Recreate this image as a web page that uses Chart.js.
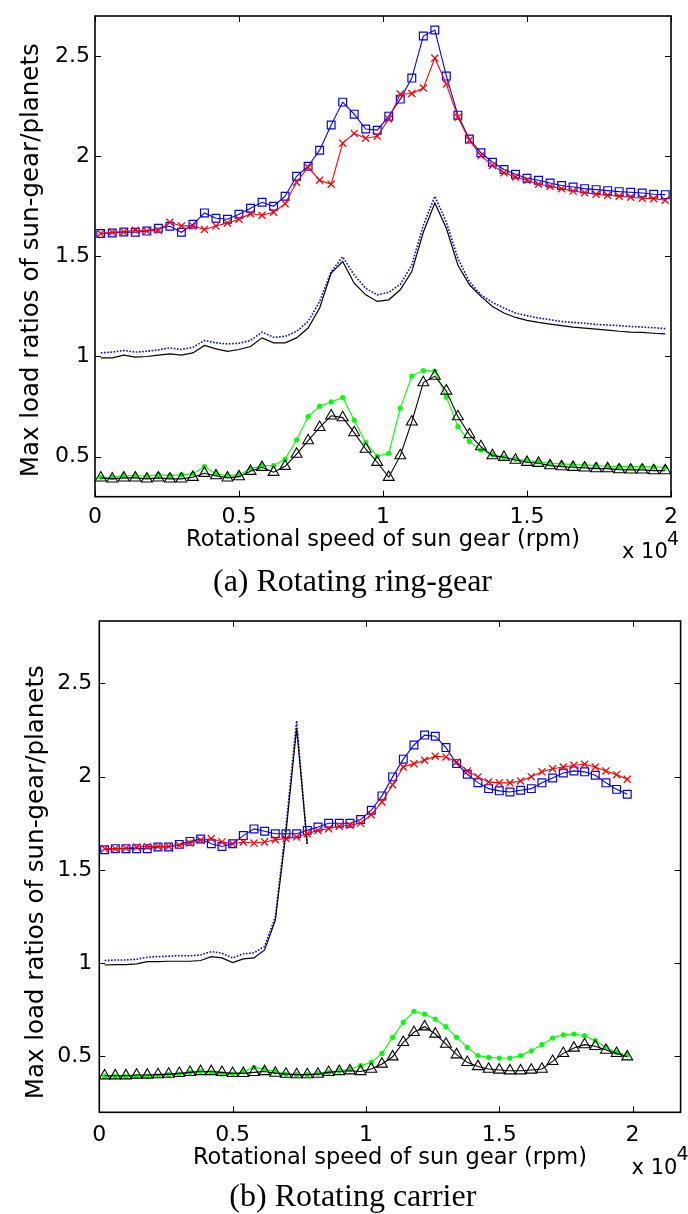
<!DOCTYPE html>
<html>
<head>
<meta charset="utf-8">
<script src="https://cdn.jsdelivr.net/npm/chart.js@4.4.1/dist/chart.umd.min.js"></script>
<style>
  html, body { margin: 0; padding: 0; background: #fff; }
  canvas { display: block; }
</style>
</head>
<body>
<canvas id="ringChart" width="688" height="600"></canvas>
<canvas id="carrierChart" width="688" height="614"></canvas>
<script>
// sun gear speed (rpm) of every computed point
const speeds = [200, 600, 1000, 1400, 1800, 2200, 2600, 3000, 3400, 3800,
  4200, 4600, 5000, 5400, 5800, 6200, 6600, 7000, 7400, 7800,
  8200, 8600, 9000, 9400, 9800, 10200, 10600, 11000, 11400, 11800,
  12200, 12600, 13000, 13400, 13800, 14200, 14600, 15000, 15400, 15800,
  16200, 16600, 17000, 17400, 17800, 18200, 18600, 19000, 19400, 19800];

const xTickValues = [0, 5000, 10000, 15000, 20000];
const xTickLabels = ['0', '0.5', '1', '1.5', '2'];
const yTickValues = [0.5, 1, 1.5, 2, 2.5];
const yTickLabels = ['0.5', '1', '1.5', '2', '2.5'];

const xTitle = 'Rotational speed of sun gear (rpm)';
const yTitle = 'Max load ratios of sun-gear/planets';
const xExponentBase = 'x 10';
const xExponent = '4';

// (a) rotating ring-gear
const ringSquares = [1.614, 1.617, 1.622, 1.62, 1.626, 1.64, 1.65, 1.62, 1.66, 1.717,
  1.69, 1.685, 1.71, 1.74, 1.77, 1.75, 1.80, 1.90, 1.95, 2.03,
  2.156, 2.27, 2.21, 2.136, 2.13, 2.20, 2.285, 2.39, 2.60, 2.63,
  2.40, 2.205, 2.086, 2.017, 1.97, 1.934, 1.91, 1.89, 1.88, 1.866,
  1.854, 1.846, 1.838, 1.833, 1.828, 1.823, 1.82, 1.816, 1.81, 1.808];
const ringCrosses = [1.614, 1.62, 1.622, 1.63, 1.626, 1.63, 1.67, 1.652, 1.652, 1.634,
  1.652, 1.667, 1.685, 1.713, 1.705, 1.72, 1.763, 1.87, 1.945, 1.88,
  1.86, 2.065, 2.114, 2.09, 2.10, 2.186, 2.31, 2.313, 2.34, 2.49,
  2.36, 2.194, 2.08, 2.003, 1.954, 1.917, 1.896, 1.88, 1.86, 1.85,
  1.838, 1.826, 1.818, 1.81, 1.805, 1.80, 1.795, 1.79, 1.788, 1.78];
const ringDotted = [1.018, 1.022, 1.03, 1.022, 1.026, 1.033, 1.043, 1.035, 1.046, 1.08,
  1.068, 1.063, 1.066, 1.08, 1.122, 1.096, 1.10, 1.126, 1.175, 1.275,
  1.424, 1.498, 1.407, 1.34, 1.308, 1.32, 1.36, 1.457, 1.655, 1.80,
  1.67, 1.49, 1.374, 1.308, 1.27, 1.242, 1.217, 1.204, 1.192, 1.184,
  1.175, 1.17, 1.166, 1.16, 1.157, 1.154, 1.15, 1.147, 1.144, 1.139];
const ringSolid = [0.993, 0.993, 1.007, 0.997, 1.0, 1.007, 1.013, 1.007, 1.018, 1.055,
  1.038, 1.026, 1.035, 1.05, 1.093, 1.068, 1.068, 1.093, 1.142, 1.242,
  1.416, 1.474, 1.366, 1.308, 1.275, 1.283, 1.333, 1.424, 1.62, 1.766,
  1.64, 1.457, 1.358, 1.30, 1.25, 1.217, 1.195, 1.18, 1.17, 1.162,
  1.154, 1.147, 1.142, 1.137, 1.132, 1.126, 1.122, 1.12, 1.116, 1.113];
const ringDots = [0.397, 0.397, 0.405, 0.405, 0.402, 0.41, 0.405, 0.41, 0.414, 0.45,
  0.414, 0.405, 0.41, 0.439, 0.455, 0.455, 0.488, 0.583, 0.70, 0.752,
  0.773, 0.795, 0.682, 0.571, 0.502, 0.517, 0.742, 0.902, 0.93, 0.927,
  0.798, 0.65, 0.576, 0.533, 0.51, 0.497, 0.488, 0.48, 0.475, 0.467,
  0.464, 0.46, 0.459, 0.455, 0.452, 0.45, 0.45, 0.45, 0.449, 0.447];
const ringTriangles = [0.394, 0.389, 0.394, 0.394, 0.389, 0.394, 0.389, 0.389, 0.397, 0.417,
  0.405, 0.394, 0.40, 0.427, 0.447, 0.422, 0.452, 0.513, 0.58, 0.646,
  0.704, 0.695, 0.62, 0.538, 0.472, 0.397, 0.505, 0.674, 0.87, 0.902,
  0.828, 0.70, 0.61, 0.55, 0.505, 0.497, 0.483, 0.472, 0.467, 0.455,
  0.45, 0.447, 0.444, 0.44, 0.44, 0.435, 0.434, 0.434, 0.43, 0.43];

// (b) rotating carrier
const carrierSquares = [1.608, 1.614, 1.614, 1.614, 1.614, 1.623, 1.623, 1.637, 1.653, 1.666,
  1.64, 1.626, 1.64, 1.684, 1.72, 1.707, 1.694, 1.694, 1.694, 1.712,
  1.73, 1.75, 1.75, 1.75, 1.77, 1.82, 1.897, 1.999, 2.094, 2.17,
  2.223, 2.217, 2.156, 2.07, 2.013, 1.968, 1.936, 1.924, 1.918, 1.927,
  1.936, 1.967, 1.993, 2.02, 2.031, 2.026, 2.008, 1.967, 1.932, 1.906];
const carrierCrosses = [1.614, 1.614, 1.617, 1.623, 1.626, 1.626, 1.626, 1.632, 1.644, 1.659,
  1.668, 1.65, 1.64, 1.65, 1.644, 1.65, 1.662, 1.668, 1.677, 1.694,
  1.712, 1.721, 1.734, 1.74, 1.75, 1.796, 1.864, 1.957, 2.052, 2.07,
  2.088, 2.11, 2.106, 2.079, 2.031, 1.999, 1.972, 1.967, 1.967, 1.977,
  2.0, 2.026, 2.043, 2.052, 2.061, 2.067, 2.052, 2.031, 2.011, 1.986];
const carrierDotted = [1.014, 1.017, 1.017, 1.021, 1.032, 1.035, 1.037, 1.04, 1.039, 1.044,
  1.062, 1.053, 1.028, 1.05, 1.055, 1.09, 1.247, 1.73, 2.30, 1.63];
const carrierSolid = [0.99, 0.992, 0.992, 0.996, 1.008, 1.008, 1.01, 1.01, 1.01, 1.014,
  1.035, 1.028, 1.003, 1.023, 1.028, 1.071, 1.229, 1.70, 2.26, 1.64];
const carrierDots = [0.393, 0.393, 0.393, 0.393, 0.393, 0.396, 0.402, 0.405, 0.414, 0.419,
  0.414, 0.405, 0.405, 0.418, 0.441, 0.432, 0.418, 0.405, 0.402, 0.402,
  0.409, 0.414, 0.423, 0.432, 0.45, 0.468, 0.516, 0.602, 0.683, 0.742,
  0.727, 0.70, 0.659, 0.602, 0.548, 0.504, 0.495, 0.491, 0.491, 0.504,
  0.53, 0.563, 0.598, 0.616, 0.62, 0.611, 0.584, 0.548, 0.521, 0.509];
const carrierTriangles = [0.396, 0.396, 0.396, 0.40, 0.40, 0.402, 0.405, 0.409, 0.414, 0.419,
  0.419, 0.414, 0.409, 0.409, 0.414, 0.419, 0.41, 0.405, 0.402, 0.402,
  0.405, 0.414, 0.419, 0.423, 0.419, 0.432, 0.459, 0.498, 0.575, 0.629,
  0.659, 0.62, 0.566, 0.509, 0.468, 0.446, 0.432, 0.427, 0.423, 0.423,
  0.427, 0.432, 0.473, 0.516, 0.545, 0.563, 0.554, 0.534, 0.516, 0.498];

const SANS = '"DejaVu Sans", sans-serif';
const SERIF = '"Liberation Serif", "Times New Roman", serif';

// matlab style box with inward ticks + the x10^4 multiplier
const matlabBox = {
  id: 'matlabBox',
  afterDraw(chart) {
    const { ctx, chartArea: a } = chart;
    const { x, y } = chart.scales;
    ctx.save();
    ctx.strokeStyle = '#000';
    ctx.lineWidth = 1;
    ctx.beginPath();
    x.ticks.forEach(t => {
      const px = Math.round(x.getPixelForValue(t.value)) + 0.5;
      ctx.moveTo(px, a.bottom); ctx.lineTo(px, a.bottom - 6);
      ctx.moveTo(px, a.top); ctx.lineTo(px, a.top + 6);
    });
    y.ticks.forEach(t => {
      const py = Math.round(y.getPixelForValue(t.value)) + 0.5;
      ctx.moveTo(a.left, py); ctx.lineTo(a.left + 6, py);
      ctx.moveTo(a.right, py); ctx.lineTo(a.right - 6, py);
    });
    ctx.stroke();
    ctx.lineWidth = 1.6;
    ctx.strokeRect(a.left, a.top, a.right - a.left, a.bottom - a.top);

    ctx.fillStyle = '#000';
    ctx.textBaseline = 'middle';
    ctx.textAlign = 'left';
    ctx.font = '21px ' + SANS;
    ctx.fillText(xExponentBase, a.right - 49, a.bottom + 56);
    ctx.font = '19px ' + SANS;
    ctx.fillText(xExponent, a.right - 4, a.bottom + 43);
    ctx.restore();
  }
};

function buildDatasets(squares, crosses, dotted, solid, dots, triangles) {
  const pts = vals => vals.map((v, i) => ({ x: speeds[i], y: v }));
  return [
    {
      data: pts(triangles), borderColor: '#000', borderWidth: 1.1,
      pointStyle: 'triangle', pointRadius: 6.3, pointBorderColor: '#000',
      pointBackgroundColor: 'rgba(0,0,0,0)', pointBorderWidth: 1.1
    },
    {
      data: pts(dots), borderColor: '#00ff00', borderWidth: 1.1,
      pointStyle: 'circle', pointRadius: 2.6, pointBorderColor: '#00ff00',
      pointBackgroundColor: '#00ff00', pointBorderWidth: 0
    },
    {
      data: pts(crosses), borderColor: '#ff0000', borderWidth: 1.1,
      pointStyle: 'crossRot', pointRadius: 5, pointBorderColor: '#ff0000',
      pointBorderWidth: 1.3
    },
    {
      data: pts(squares), borderColor: '#0000ff', borderWidth: 1.1,
      pointStyle: 'rect', pointRadius: 5.5, pointBorderColor: '#0000ff',
      pointBackgroundColor: 'rgba(0,0,0,0)', pointBorderWidth: 1.2
    },
    {
      data: pts(solid), borderColor: '#000', borderWidth: 1.2, pointRadius: 0
    },
    {
      data: pts(dotted), borderColor: '#0000ff', borderWidth: 1.6,
      borderDash: [1.6, 1.6], pointRadius: 0
    }
  ];
}

function makeChart(canvasId, cfg) {
  return new Chart(document.getElementById(canvasId), {
    type: 'line',
    data: { datasets: cfg.datasets },
    options: {
      responsive: false,
      animation: false,
      devicePixelRatio: 1,
      layout: { padding: cfg.padding },
      plugins: {
        legend: { display: false },
        tooltip: { enabled: false },
        title: {
          display: true, position: 'bottom', text: cfg.caption, color: '#000',
          font: { family: SERIF, size: 32, weight: 'normal', lineHeight: 1 },
          padding: 0
        }
      },
      scales: {
        x: {
          type: 'linear', min: 0, max: cfg.xMax,
          afterBuildTicks: s => { s.ticks = xTickValues.map(v => ({ value: v })); },
          afterFit: s => { s.height = cfg.xAxisHeight; },
          grid: { display: false, drawTicks: false },
          border: { display: false },
          ticks: {
            color: '#000', padding: cfg.xTickPad, maxRotation: 0, autoSkip: false,
            font: { family: SANS, size: 22, lineHeight: 1 },
            callback: (v, i) => xTickLabels[i]
          },
          title: {
            display: true, text: xTitle, color: '#000',
            font: { family: SANS, size: 22.5 },
            padding: { top: 0, bottom: cfg.xTitlePad }
          }
        },
        y: {
          type: 'linear', min: cfg.yMin, max: cfg.yMax,
          afterBuildTicks: s => { s.ticks = yTickValues.map(v => ({ value: v })); },
          afterFit: s => { s.width = cfg.yAxisWidth; },
          grid: { display: false, drawTicks: false },
          border: { display: false },
          ticks: {
            color: '#000', padding: cfg.yTickPad,
            font: { family: SANS, size: 22, lineHeight: 1 },
            callback: (v, i) => yTickLabels[i]
          },
          title: {
            display: true,
            // trailing spaces nudge the centred label down, as in the original
            text: yTitle + cfg.yTitleTail, color: '#000',
            font: { family: SANS, size: 24.5 },
            padding: { top: cfg.yTitlePad, bottom: 0 }
          }
        }
      }
    },
    plugins: [matlabBox]
  });
}

makeChart('ringChart', {
  datasets: buildDatasets(ringSquares, ringCrosses, ringDotted, ringSolid, ringDots, ringTriangles),
  caption: '(a) Rotating ring-gear',
  padding: { top: 12.7, left: 24, right: 7, bottom: 1 },
  xMax: 20000, yMin: 0.3, yMax: 2.7,
  xAxisHeight: 70.3, yAxisWidth: 71,
  xTickPad: 10, yTickPad: 5, xTitlePad: 13.5, yTitlePad: -6.8, yTitleTail: ' '
});

makeChart('carrierChart', {
  datasets: buildDatasets(carrierSquares, carrierCrosses, carrierDotted, carrierSolid, carrierDots, carrierTriangles),
  caption: '(b) Rotating carrier',
  padding: { top: 21, left: 25, right: 7.3, bottom: 0 },
  xMax: 21800, yMin: 0.2, yMax: 2.835,
  xAxisHeight: 69.7, yAxisWidth: 74.3,
  xTickPad: 12, yTickPad: 7, xTitlePad: 10.5, yTitlePad: -2.6, yTitleTail: '    '
});
</script>
</body>
</html>
